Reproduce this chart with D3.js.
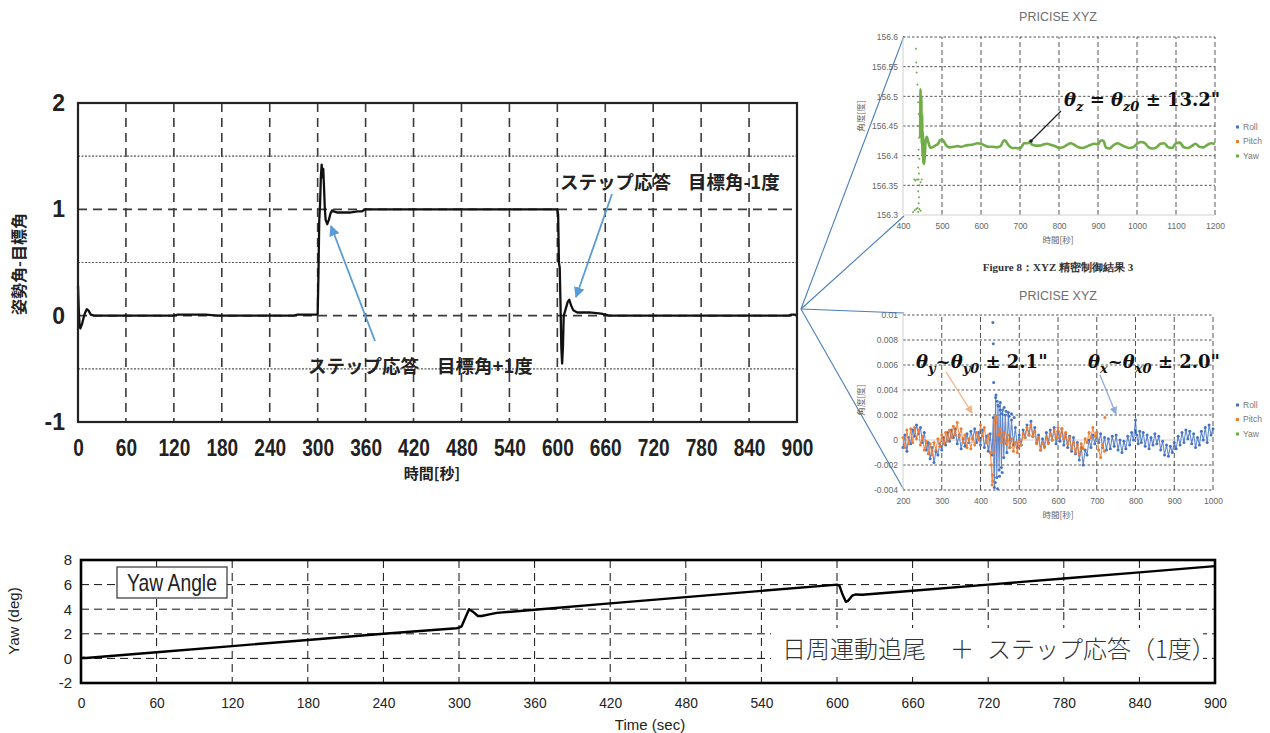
<!DOCTYPE html>
<html><head><meta charset="utf-8">
<script src="https://cdn.jsdelivr.net/npm/d3@7"></script>
<style>body{margin:0;background:#fff}svg{display:block}</style>
</head><body><svg id="c" width="1270" height="733"></svg>
<script>
// ---------------- DATA ----------------
// Main chart: attitude angle minus target angle
const mainXTicks = [0,60,120,180,240,300,360,420,480,540,600,660,720,780,840,900];
const mainYTicks = [-1,0,1,2];
const mainDashY = [0,1];
const mainDotY = [-0.5,0.5,1.5];
const mainT = [0,1,2,3,5,7,9,11,13,16,20,120,125,140,160,175,180,270,275,290,299,300,301,302,303,304,305,306,307,308,309,310,312,314,316,318,320,325,330,340,350,355,360,600,601,602,603,604,605,606,607,608,610,613,615,617,620,625,640,655,665,890,893,897,900];
const mainV = [0.28,0.05,-0.1,-0.12,-0.08,-0.02,0.03,0.06,0.05,0.01,0,0,0.01,0.01,0.01,0,0,0,0.01,0.01,0.01,0.02,0.4,0.9,1.05,1.3,1.42,1.3,1.38,1.2,1.0,0.9,0.86,0.9,0.96,0.99,0.98,0.97,0.97,0.97,0.98,0.98,1.0,1.0,0.95,0.5,0.45,0.1,-0.3,-0.45,-0.3,0.0,0.05,0.13,0.15,0.1,0.05,0.03,0.03,0.02,0.0,0.0,0.01,0.01,0.0];

// Bottom chart: yaw angle
const yawXTicks = [0,60,120,180,240,300,360,420,480,540,600,660,720,780,840,900];
const yawYTicks = [-2,0,2,4,6,8];
const yawT = [0,2,4,60,120,180,240,298,300,302,305,308,311,315,318,325,330,360,420,480,540,598,600,602,604,607,609,612,615,620,660,720,780,840,900];
const yawV = [0,0.05,0.03,0.5,1.0,1.5,2.0,2.45,2.5,2.6,3.3,4.0,3.8,3.45,3.45,3.6,3.7,3.96,4.47,4.98,5.49,5.98,6.0,5.9,5.3,4.6,4.7,5.1,5.2,5.18,5.5,6.0,6.5,6.99,7.5];

// Inset 1: PRICISE XYZ (Yaw)
const in1XTicks = [400,500,600,700,800,900,1000,1100,1200];
const in1YTicks = [156.3,156.35,156.4,156.45,156.5,156.55,156.6];
const in1YawLine = [[444,156.43],[445,156.512],[446,156.44],[447,156.5],[448,156.42],[449,156.47],[450,156.4],[451,156.44],[452,156.39],[454,156.386],[456,156.4],[458,156.425],[461,156.432],[464,156.425],[467,156.418],[470,156.413],[475,156.414],[480,156.416],[485,156.418],[490,156.42],[495,156.426],[500,156.427],[505,156.424],[510,156.418],[515,156.415],[520,156.414],[530,156.415],[540,156.416],[550,156.415],[560,156.417],[570,156.418],[580,156.419],[590,156.421],[600,156.42],[610,156.417],[620,156.415],[630,156.415],[640,156.414],[650,156.416],[655,156.422],[660,156.426],[665,156.423],[670,156.418],[680,156.413],[690,156.413],[700,156.412],[705,156.416],[710,156.421],[720,156.421],[725,156.423],[730,156.419],[740,156.417],[750,156.417],[760,156.419],[770,156.42],[780,156.418],[790,156.416],[800,156.413],[810,156.414],[820,156.418],[830,156.421],[840,156.418],[850,156.414],[860,156.413],[870,156.415],[880,156.418],[890,156.42],[900,156.419],[905,156.424],[910,156.426],[915,156.424],[920,156.414],[930,156.412],[940,156.418],[950,156.421],[960,156.418],[970,156.415],[980,156.413],[990,156.414],[1000,156.42],[1010,156.423],[1020,156.421],[1030,156.414],[1040,156.412],[1050,156.414],[1060,156.42],[1070,156.421],[1080,156.414],[1090,156.413],[1100,156.421],[1110,156.422],[1120,156.414],[1130,156.413],[1140,156.416],[1150,156.42],[1160,156.415],[1170,156.414],[1180,156.418],[1190,156.421],[1200,156.42]];
const in1YawDots = [[433,156.58],[434,156.557],[435,156.54],[437,156.52],[439,156.49],[440,156.47],[438,156.45],[441,156.43],[440,156.41],[442,156.395],[439,156.38],[441,156.37],[440,156.36],[442,156.35],[439,156.34],[441,156.33],[440,156.32],[442,156.31],[439,156.305],[426,156.305],[430,156.308],[434,156.31],[437,156.312],[445,156.307],[429,156.36],[432,156.358],[436,156.36],[445,156.355],[448,156.36]];

// Inset 2: PRICISE XYZ (Roll / Pitch)
const in2XTicks = [200,300,400,500,600,700,800,900,1000];
const in2YTicks = [-0.004,-0.002,0,0.002,0.004,0.006,0.008,0.01];
const in2YLabels = ["-0.004","-0.002","0","0.002","0.004","0.006","0.008","0.01"];
const rollPts = [[200,-0.0006],[205,0.0004],[210,-0.0009],[215,0.0002],[220,-0.0003],[225,0.0008],[230,0.0003],[235,0.0012],[240,0.0005],[245,0.001],[250,-0.0002],[255,0.0006],[260,-0.0008],[265,-0.0002],[270,-0.0015],[275,-0.0006],[280,-0.0018],[285,-0.0009],[290,-0.0012],[295,-0.0003],[300,-0.0008],[305,0.0002],[310,-0.0004],[315,0.0006],[320,-0.0001],[325,0.0008],[330,0.0002],[335,0.0009],[340,-0.0003],[345,0.0004],[350,-0.0007],[355,0.0001],[360,-0.0005],[365,0.0005],[370,-0.0002],[375,0.0007],[380,0.0001],[385,0.0009],[390,-0.0002],[395,0.0006],[400,-0.0004],[405,0.0008],[410,-0.0006],[415,0.0003],[420,-0.0009],[425,0.0005],[430,-0.0012],[433,0.0018],[436,-0.0038],[439,0.0034],[442,-0.003],[445,0.0028],[448,-0.0024],[451,0.003],[454,-0.0022],[457,0.0024],[460,-0.0014],[464,0.002],[468,-0.001],[472,0.0022],[476,-0.0006],[480,0.0016],[485,-0.0004],[490,0.001],[495,-0.0006],[500,0.0004],[505,-0.0004],[510,0.0008],[515,0.0002],[520,0.0012],[525,0.0004],[530,0.0015],[535,0.0003],[540,0.001],[545,-0.0002],[550,0.0004],[555,-0.0008],[560,0.0001],[565,-0.0005],[570,0.0006],[575,-0.0002],[580,0.0008],[585,0],[590,0.001],[595,-0.0003],[600,0.0007],[605,-0.0001],[610,0.0009],[615,-0.0004],[620,0.0005],[625,-0.0006],[630,0.0003],[635,-0.0009],[640,0.0002],[645,-0.0011],[650,-0.0002],[655,-0.0016],[660,-0.0006],[665,-0.002],[670,-0.0008],[675,-0.0012],[680,0],[685,-0.0006],[690,0.0004],[695,-0.0003],[700,0.0006],[705,-0.0002],[710,0.0005],[715,-0.0006],[720,0.0002],[725,-0.0008],[730,0.0001],[735,-0.0007],[740,0.0003],[745,-0.0005],[750,0.0004],[755,-0.0008],[760,0],[765,-0.001],[770,-0.0001],[775,-0.0007],[780,0.0003],[785,-0.0004],[790,0.0006],[795,0],[800,0.0016],[803,0.0004],[807,-0.0003],[811,0.0007],[815,-0.0002],[820,0.0006],[825,-0.0005],[830,0.0004],[835,-0.0007],[840,0.0002],[845,-0.0004],[850,0.0005],[855,-0.0003],[860,0.0003],[865,-0.0008],[870,-0.0001],[875,-0.0012],[880,-0.0004],[885,-0.0013],[890,-0.0005],[895,-0.001],[900,-0.0002],[905,-0.0007],[910,0.0003],[915,-0.0004],[920,0.0006],[925,-0.0002],[930,0.0008],[935,0.0001],[940,0.0007],[945,-0.0003],[950,0.0005],[955,-0.0006],[960,0.0002],[965,-0.0004],[970,0.0007],[975,0],[980,0.001],[985,-0.0002],[990,0.0012],[995,0.0004],[1000,0.0009]];
const rollDots = [[432,0.0094],[433,0.0077],[434,0.0046],[440,0.0036],[443,0.0031],[447,0.0027],[450,0.0024],[455,0.0021],[438,-0.0034],[444,-0.0039],[449,-0.0029],[456,-0.0026],[461,0.0026],[466,0.0023],[474,0.0019],[480,0.0021],[487,0.0018]];
const pitchPts = [[200,0.0002],[205,-0.0006],[210,0.0008],[215,-0.0003],[220,0.0009],[225,-0.0002],[230,0.001],[235,0.0001],[240,0.0008],[245,-0.0004],[250,0.0003],[255,-0.0008],[260,-0.0001],[265,-0.0011],[270,-0.0003],[275,-0.0012],[280,-0.0002],[285,-0.0008],[290,0.0001],[295,-0.0005],[300,0.0004],[305,-0.0003],[310,0.0006],[315,-0.0001],[320,0.0008],[325,0.0002],[330,0.0011],[335,0.0004],[340,0.0014],[345,0.0003],[350,0.0009],[355,-0.0002],[360,0.0004],[365,-0.0006],[370,0.0001],[375,-0.0007],[380,0.0002],[385,-0.0004],[390,0.0006],[395,0],[400,0.0012],[405,0.0003],[410,0.001],[415,-0.0002],[420,0.0004],[425,-0.001],[428,-0.002],[430,-0.0036],[431,-0.0028],[432,-0.0033],[434,-0.001],[436,0.0016],[440,0.0019],[445,0.0004],[450,0.0009],[455,-0.0002],[460,0.0006],[465,-0.0003],[470,0.0004],[475,-0.0006],[480,0.0001],[485,-0.0009],[490,-0.0002],[495,-0.001],[500,-0.0001],[505,-0.0004],[510,0.0005],[515,0.0002],[520,0.001],[525,0.0004],[530,0.0012],[535,0.0003],[540,0.0007],[545,-0.0003],[550,0.0002],[555,-0.0008],[560,-0.0002],[565,-0.0006],[570,0.0002],[575,-0.0003],[580,0.0005],[585,0],[590,0.0008],[595,0.0002],[600,0.001],[605,0.0003],[610,0.0009],[615,0.0001],[620,0.0006],[625,-0.0003],[630,0.0002],[635,-0.0007],[640,-0.0002],[645,-0.001],[650,-0.0004],[655,-0.0012],[660,-0.0003],[665,-0.0007],[670,0.0001],[675,-0.0002],[680,0.0006],[685,0.0002],[690,0.001],[695,0.0003],[700,0.0006],[705,-0.0008],[710,-0.0014],[715,-0.0004],[720,-0.0009]];
const pitchDots = [[721,0.0018]];

const legendNames = ["Roll","Pitch","Yaw"];
const legendColors = ["#4472c4","#ed7d31","#70ad47"];

// ---------------- DRAW ----------------
const svg = d3.select('#c');
svg.append('rect').attr('width',1270).attr('height',733).attr('fill','#fff');
const SANS = "'Liberation Sans', Arial, sans-serif";
const JP = "'Noto Sans CJK JP', sans-serif";

// ===== MAIN CHART =====
const mx = d3.scaleLinear().domain([0,900]).range([78,797]);
const my = d3.scaleLinear().domain([-1,2]).range([422,103]);
const gM = svg.append('g');
gM.selectAll('line.vg').data(mainXTicks.slice(1,-1)).join('line')
  .attr('x1',d=>mx(d)).attr('x2',d=>mx(d)).attr('y1',my(2)).attr('y2',my(-1))
  .attr('stroke','#3a3a3a').attr('stroke-width',1.6).attr('stroke-dasharray','9,6');
gM.selectAll('line.hd').data(mainDashY).join('line')
  .attr('x1',mx(0)).attr('x2',mx(900)).attr('y1',d=>my(d)).attr('y2',d=>my(d))
  .attr('stroke','#3a3a3a').attr('stroke-width',1.6).attr('stroke-dasharray','9,6');
gM.selectAll('line.ht').data(mainDotY).join('line')
  .attr('x1',mx(0)).attr('x2',mx(900)).attr('y1',d=>my(d)).attr('y2',d=>my(d))
  .attr('stroke','#555').attr('stroke-width',1.2).attr('stroke-dasharray','2,1.5');
gM.append('path').datum(mainT.map((t,i)=>[t,mainV[i]]))
  .attr('d',d3.line().x(d=>mx(d[0])).y(d=>my(d[1])))
  .attr('fill','none').attr('stroke','#111').attr('stroke-width',2.3).attr('stroke-linejoin','round');
gM.append('rect').attr('x',mx(0)).attr('y',my(2)).attr('width',mx(900)-mx(0)).attr('height',my(-1)-my(2))
  .attr('fill','none').attr('stroke','#222').attr('stroke-width',2.2);
// x axis labels
const gMx = gM.append('g').attr('transform','translate(0,448)')
  .call(d3.axisBottom(mx).tickValues(mainXTicks).tickSize(0).tickPadding(0).tickFormat(d=>String(d)));
gMx.select('.domain').remove();
gMx.selectAll('text').attr('y',0).attr('dy','0.35em').attr('font-family',SANS).attr('font-size',23)
  .attr('font-weight','bold').attr('fill','#222').attr('transform','scale(0.83,1)');
// y axis labels
const gMy = gM.append('g').attr('transform','translate(65,0)')
  .call(d3.axisLeft(my).tickValues(mainYTicks).tickSize(0).tickPadding(0).tickFormat(d=>String(d)));
gMy.select('.domain').remove();
gMy.selectAll('text').attr('font-family',SANS).attr('font-size',23).attr('font-weight','bold').attr('fill','#222');
gM.append('text').attr('x',432).attr('y',479).attr('text-anchor','middle').attr('font-family',JP)
  .attr('font-size',15).attr('font-weight','bold').attr('fill','#222').text('時間[秒]');
gM.append('text').attr('transform','translate(25,264) rotate(-90)').attr('text-anchor','middle').attr('font-family',JP)
  .attr('font-size',16).attr('font-weight','bold').attr('fill','#222').text('姿勢角-目標角');
function twoPart(x1,x2,y,a,b){
  const t = gM.append('text').attr('y',y).attr('font-family',JP).attr('font-size',18.5)
    .attr('font-weight','bold').attr('fill','#222');
  t.append('tspan').attr('x',x1).text(a);
  t.append('tspan').attr('x',x2).text(b);
}
twoPart(560,688,189,'ステップ応答','目標角-1度');
twoPart(308,437,373,'ステップ応答','目標角+1度');

// arrows
const defs = svg.append('defs');
function marker(id,color){
  defs.append('marker').attr('id',id).attr('viewBox','0 0 10 10').attr('refX',9).attr('refY',5)
    .attr('markerWidth',6).attr('markerHeight',6).attr('orient','auto')
    .append('path').attr('d','M0,0L10,5L0,10z').attr('fill',color);
}
marker('ab','#5b9bd5'); marker('ao','#f4b183'); marker('ab2','#8faadc');
function arrow(x1,y1,x2,y2,color,m,w){
  svg.append('line').attr('x1',x1).attr('y1',y1).attr('x2',x2).attr('y2',y2)
    .attr('stroke',color).attr('stroke-width',w).attr('marker-end',`url(#${m})`);
}
arrow(375,341,331,226,'#5b9bd5','ab',1.8);
arrow(612,194,576,297,'#5b9bd5','ab',1.8);

// connector lines
const conn = [[904,36],[904,216],[904,313],[904,490]];
svg.selectAll('line.conn').data(conn).join('line')
  .attr('x1',801).attr('y1',309).attr('x2',d=>d[0]).attr('y2',d=>d[1])
  .attr('stroke','#4a7ebb').attr('stroke-width',1.1);

// ===== INSET helper =====
function inset(o){
  const g = svg.append('g');
  const x = d3.scaleLinear().domain(o.xd).range(o.xr);
  const y = d3.scaleLinear().domain(o.yd).range(o.yr);
  g.append('text').attr('x',1058).attr('y',o.titleY).attr('text-anchor','middle').attr('font-family',SANS)
    .attr('font-size',12.5).attr('fill','#6e6e6e').text('PRICISE XYZ');
  g.selectAll('line.h').data(o.yTicks.filter(d=>!o.noGridY.includes(d))).join('line')
    .attr('x1',o.xr[0]).attr('x2',o.xr[1]).attr('y1',d=>y(d)).attr('y2',d=>y(d))
    .attr('stroke','#555').attr('stroke-width',1).attr('stroke-dasharray','2.5,2');
  g.selectAll('line.v').data(o.xTicks.slice(1)).join('line')
    .attr('x1',d=>x(d)).attr('x2',d=>x(d)).attr('y1',o.yr[0]).attr('y2',o.yr[1])
    .attr('stroke','#555').attr('stroke-width',1).attr('stroke-dasharray','5,3');
  g.append('line').attr('x1',o.xr[0]).attr('x2',o.xr[0]).attr('y1',o.yr[0]).attr('y2',o.yr[1]).attr('stroke','#d0d0d0');
  g.append('line').attr('x1',o.xr[0]).attr('x2',o.xr[1]).attr('y1',y(o.axisY)).attr('y2',y(o.axisY)).attr('stroke','#d0d0d0');
  const ax = g.append('g').attr('transform',`translate(0,${o.yr[0]+11})`)
    .call(d3.axisBottom(x).tickValues(o.xTicks).tickSize(0).tickPadding(0).tickFormat(d=>String(d)));
  ax.select('.domain').remove();
  ax.selectAll('text').attr('y',0).attr('dy','0.35em').attr('font-family',SANS).attr('font-size',8.5).attr('fill','#666');
  const ay = g.append('g').attr('transform',`translate(${o.xr[0]-5},0)`)
    .call(d3.axisLeft(y).tickValues(o.yTicks).tickSize(0).tickPadding(0).tickFormat((d,i)=>o.yLabels[i]));
  ay.select('.domain').remove();
  ay.selectAll('text').attr('font-family',SANS).attr('font-size',8.5).attr('fill','#666');
  g.append('text').attr('x',1058).attr('y',o.yr[0]+28).attr('text-anchor','middle').attr('font-family',JP)
    .attr('font-size',8.5).attr('fill','#666').text('時間[秒]');
  g.append('text').attr('transform',`translate(864,${o.ytY}) rotate(-90)`).attr('text-anchor','middle').attr('font-family',JP)
    .attr('font-size',8.5).attr('fill','#666').text('角度[度]');
  // legend
  legendNames.forEach((n,i)=>{
    g.append('rect').attr('x',1236).attr('y',o.legY+i*14.5-1.5).attr('width',3).attr('height',3).attr('fill',legendColors[i]);
    g.append('text').attr('x',1243).attr('y',o.legY+i*14.5).attr('dy','0.35em').attr('font-family',SANS)
      .attr('font-size',8.5).attr('fill','#777').text(n);
  });
  return {g,x,y};
}

// ===== INSET 1 =====
const I1 = inset({xd:[400,1200],xr:[903,1215],yd:[156.3,156.6],yr:[215,37],xTicks:in1XTicks,yTicks:in1YTicks,
  yLabels:in1YTicks.map(String),noGridY:[156.3],axisY:156.3,titleY:21,ytY:116,legY:127});
I1.g.selectAll('circle.yd').data(in1YawDots).join('circle').attr('cx',d=>I1.x(d[0])).attr('cy',d=>I1.y(d[1]))
  .attr('r',1).attr('fill','#70ad47');
I1.g.append('path').datum(in1YawLine).attr('d',d3.line().x(d=>I1.x(d[0])).y(d=>I1.y(d[1])).curve(d3.curveMonotoneX))
  .attr('fill','none').attr('stroke','#70ad47').attr('stroke-width',2.6);
// annotation
I1.g.append('line').attr('x1',1061).attr('y1',111).attr('x2',1031).attr('y2',141).attr('stroke','#222').attr('stroke-width',1.2);
I1.g.append('circle').attr('cx',1031).attr('cy',141).attr('r',1.8).attr('fill','#222');
function theta(x,y,parts,size){
  const t = svg.append('text').attr('x',x).attr('y',y).attr('font-family',"'DejaVu Serif','Liberation Serif',serif")
    .attr('font-weight','bold').attr('font-size',size).attr('fill','#111').attr('style','white-space:pre');
  let prevSub=false;
  parts.forEach(p=>{
    const s = t.append('tspan').text(p.t);
    if(p.i) s.attr('font-style','italic');
    if(p.sub && !prevSub) s.attr('dy',size*0.3).attr('font-size',size*0.72);
    else if(p.sub) s.attr('font-size',size*0.72);
    if(!p.sub && prevSub) s.attr('dy',-size*0.3);
    prevSub=!!p.sub;
  });
}
theta(1064,106,[{t:'θ',i:1},{t:'z',i:1,sub:1},{t:' = ',i:0},{t:'θ',i:1},{t:'z0',i:1,sub:1},{t:' ± 13.2"',i:0}],18);

// Figure caption
svg.append('text').attr('x',1058).attr('y',271).attr('text-anchor','middle').attr('font-family',"'Liberation Serif',serif")
  .attr('font-size',11).attr('font-weight','bold').attr('fill','#333').text('Figure 8：XYZ 精密制御結果 3');

// ===== INSET 2 =====
const I2 = inset({xd:[200,1000],xr:[903,1213],yd:[-0.004,0.01],yr:[490,315],xTicks:in2XTicks,yTicks:in2YTicks,
  yLabels:in2YLabels,noGridY:[0],axisY:0,titleY:300,ytY:400,legY:405});
const lineR = d3.line().x(d=>I2.x(d[0])).y(d=>I2.y(d[1]));
I2.g.append('path').datum(rollPts).attr('d',lineR).attr('fill','none').attr('stroke','#4472c4').attr('stroke-width',1.1).attr('stroke-opacity',0.85);
I2.g.selectAll('circle.r').data(rollPts.concat(rollDots)).join('circle').attr('cx',d=>I2.x(d[0])).attr('cy',d=>I2.y(d[1]))
  .attr('r',1.5).attr('fill','#4472c4');
I2.g.append('path').datum(pitchPts).attr('d',lineR).attr('fill','none').attr('stroke','#ed7d31').attr('stroke-width',1.1).attr('stroke-opacity',0.85);
I2.g.selectAll('circle.p').data(pitchPts.concat(pitchDots)).join('circle').attr('cx',d=>I2.x(d[0])).attr('cy',d=>I2.y(d[1]))
  .attr('r',1.5).attr('fill','#ed7d31');
theta(916,368,[{t:'θ',i:1},{t:'y',i:1,sub:1},{t:'~',i:0},{t:'θ',i:1},{t:'y0',i:1,sub:1},{t:' ± 2.1"',i:0}],18);
theta(1088,368,[{t:'θ',i:1},{t:'x',i:1,sub:1},{t:'~',i:0},{t:'θ',i:1},{t:'x0',i:1,sub:1},{t:' ± 2.0"',i:0}],18);
arrow(946,372,972,413,'#f4b183','ao',1.3);
arrow(1100,375,1116,414,'#8faadc','ab2',1.3);

// ===== BOTTOM CHART =====
const bx = d3.scaleLinear().domain([0,900]).range([81,1215]);
const by = d3.scaleLinear().domain([-2,8]).range([683,560]);
const gB = svg.append('g');
gB.selectAll('line.bv').data(yawXTicks.slice(1,-1)).join('line')
  .attr('x1',d=>bx(d)).attr('x2',d=>bx(d)).attr('y1',by(8)).attr('y2',by(-2))
  .attr('stroke','#111').attr('stroke-width',1).attr('stroke-dasharray','8,5');
gB.selectAll('line.bh').data(yawYTicks.slice(1,-1)).join('line')
  .attr('x1',bx(0)).attr('x2',bx(900)).attr('y1',d=>by(d)).attr('y2',d=>by(d))
  .attr('stroke','#111').attr('stroke-width',1).attr('stroke-dasharray','8,5');
// white boxes
gB.append('rect').attr('x',771).attr('y',628).attr('width',432).attr('height',44).attr('fill','#fff');
const bt = gB.append('text').attr('y',658).attr('font-family',JP).attr('font-size',24).attr('font-weight',300).attr('fill','#333');
bt.append('tspan').attr('x',782).text('日周運動追尾');
bt.append('tspan').attr('x',950).text('＋');
bt.append('tspan').attr('x',987).text('ステップ応答（1度）');
gB.append('rect').attr('x',117).attr('y',567).attr('width',110).attr('height',31).attr('fill','#fff').attr('stroke','#333').attr('stroke-width',1.2);
gB.append('text').attr('x',172).attr('y',583).attr('dy','0.35em').attr('text-anchor','middle').attr('font-family',SANS)
  .attr('font-size',23).attr('fill','#222').attr('transform','translate(172,0) scale(0.84,1) translate(-172,0)').text('Yaw Angle');
gB.append('path').datum(yawT.map((t,i)=>[t,yawV[i]])).attr('d',d3.line().x(d=>bx(d[0])).y(d=>by(d[1])))
  .attr('fill','none').attr('stroke','#000').attr('stroke-width',2.4).attr('stroke-linejoin','round');
gB.append('rect').attr('x',bx(0)).attr('y',by(8)).attr('width',bx(900)-bx(0)).attr('height',by(-2)-by(8))
  .attr('fill','none').attr('stroke','#000').attr('stroke-width',2.6);
const gBx = gB.append('g').attr('transform','translate(0,703)')
  .call(d3.axisBottom(bx).tickValues(yawXTicks).tickSize(0).tickPadding(0).tickFormat(d=>String(d)));
gBx.select('.domain').remove();
gBx.selectAll('text').attr('y',0).attr('dy','0.35em').attr('font-family',SANS).attr('font-size',15).attr('fill','#222').attr('transform','scale(0.92,1)');
const gBy = gB.append('g').attr('transform','translate(72,0)')
  .call(d3.axisLeft(by).tickValues(yawYTicks).tickSize(0).tickPadding(0).tickFormat(d=>String(d)));
gBy.select('.domain').remove();
gBy.selectAll('text').attr('font-family',SANS).attr('font-size',15).attr('fill','#222');
gB.append('text').attr('x',650).attr('y',725).attr('dy','0.35em').attr('text-anchor','middle').attr('font-family',SANS)
  .attr('font-size',15).attr('fill','#222').text('Time (sec)');
gB.append('text').attr('transform','translate(14,621) rotate(-90)').attr('dy','0.35em').attr('text-anchor','middle').attr('font-family',SANS)
  .attr('font-size',15).attr('fill','#222').text('Yaw (deg)');
</script></body></html>
